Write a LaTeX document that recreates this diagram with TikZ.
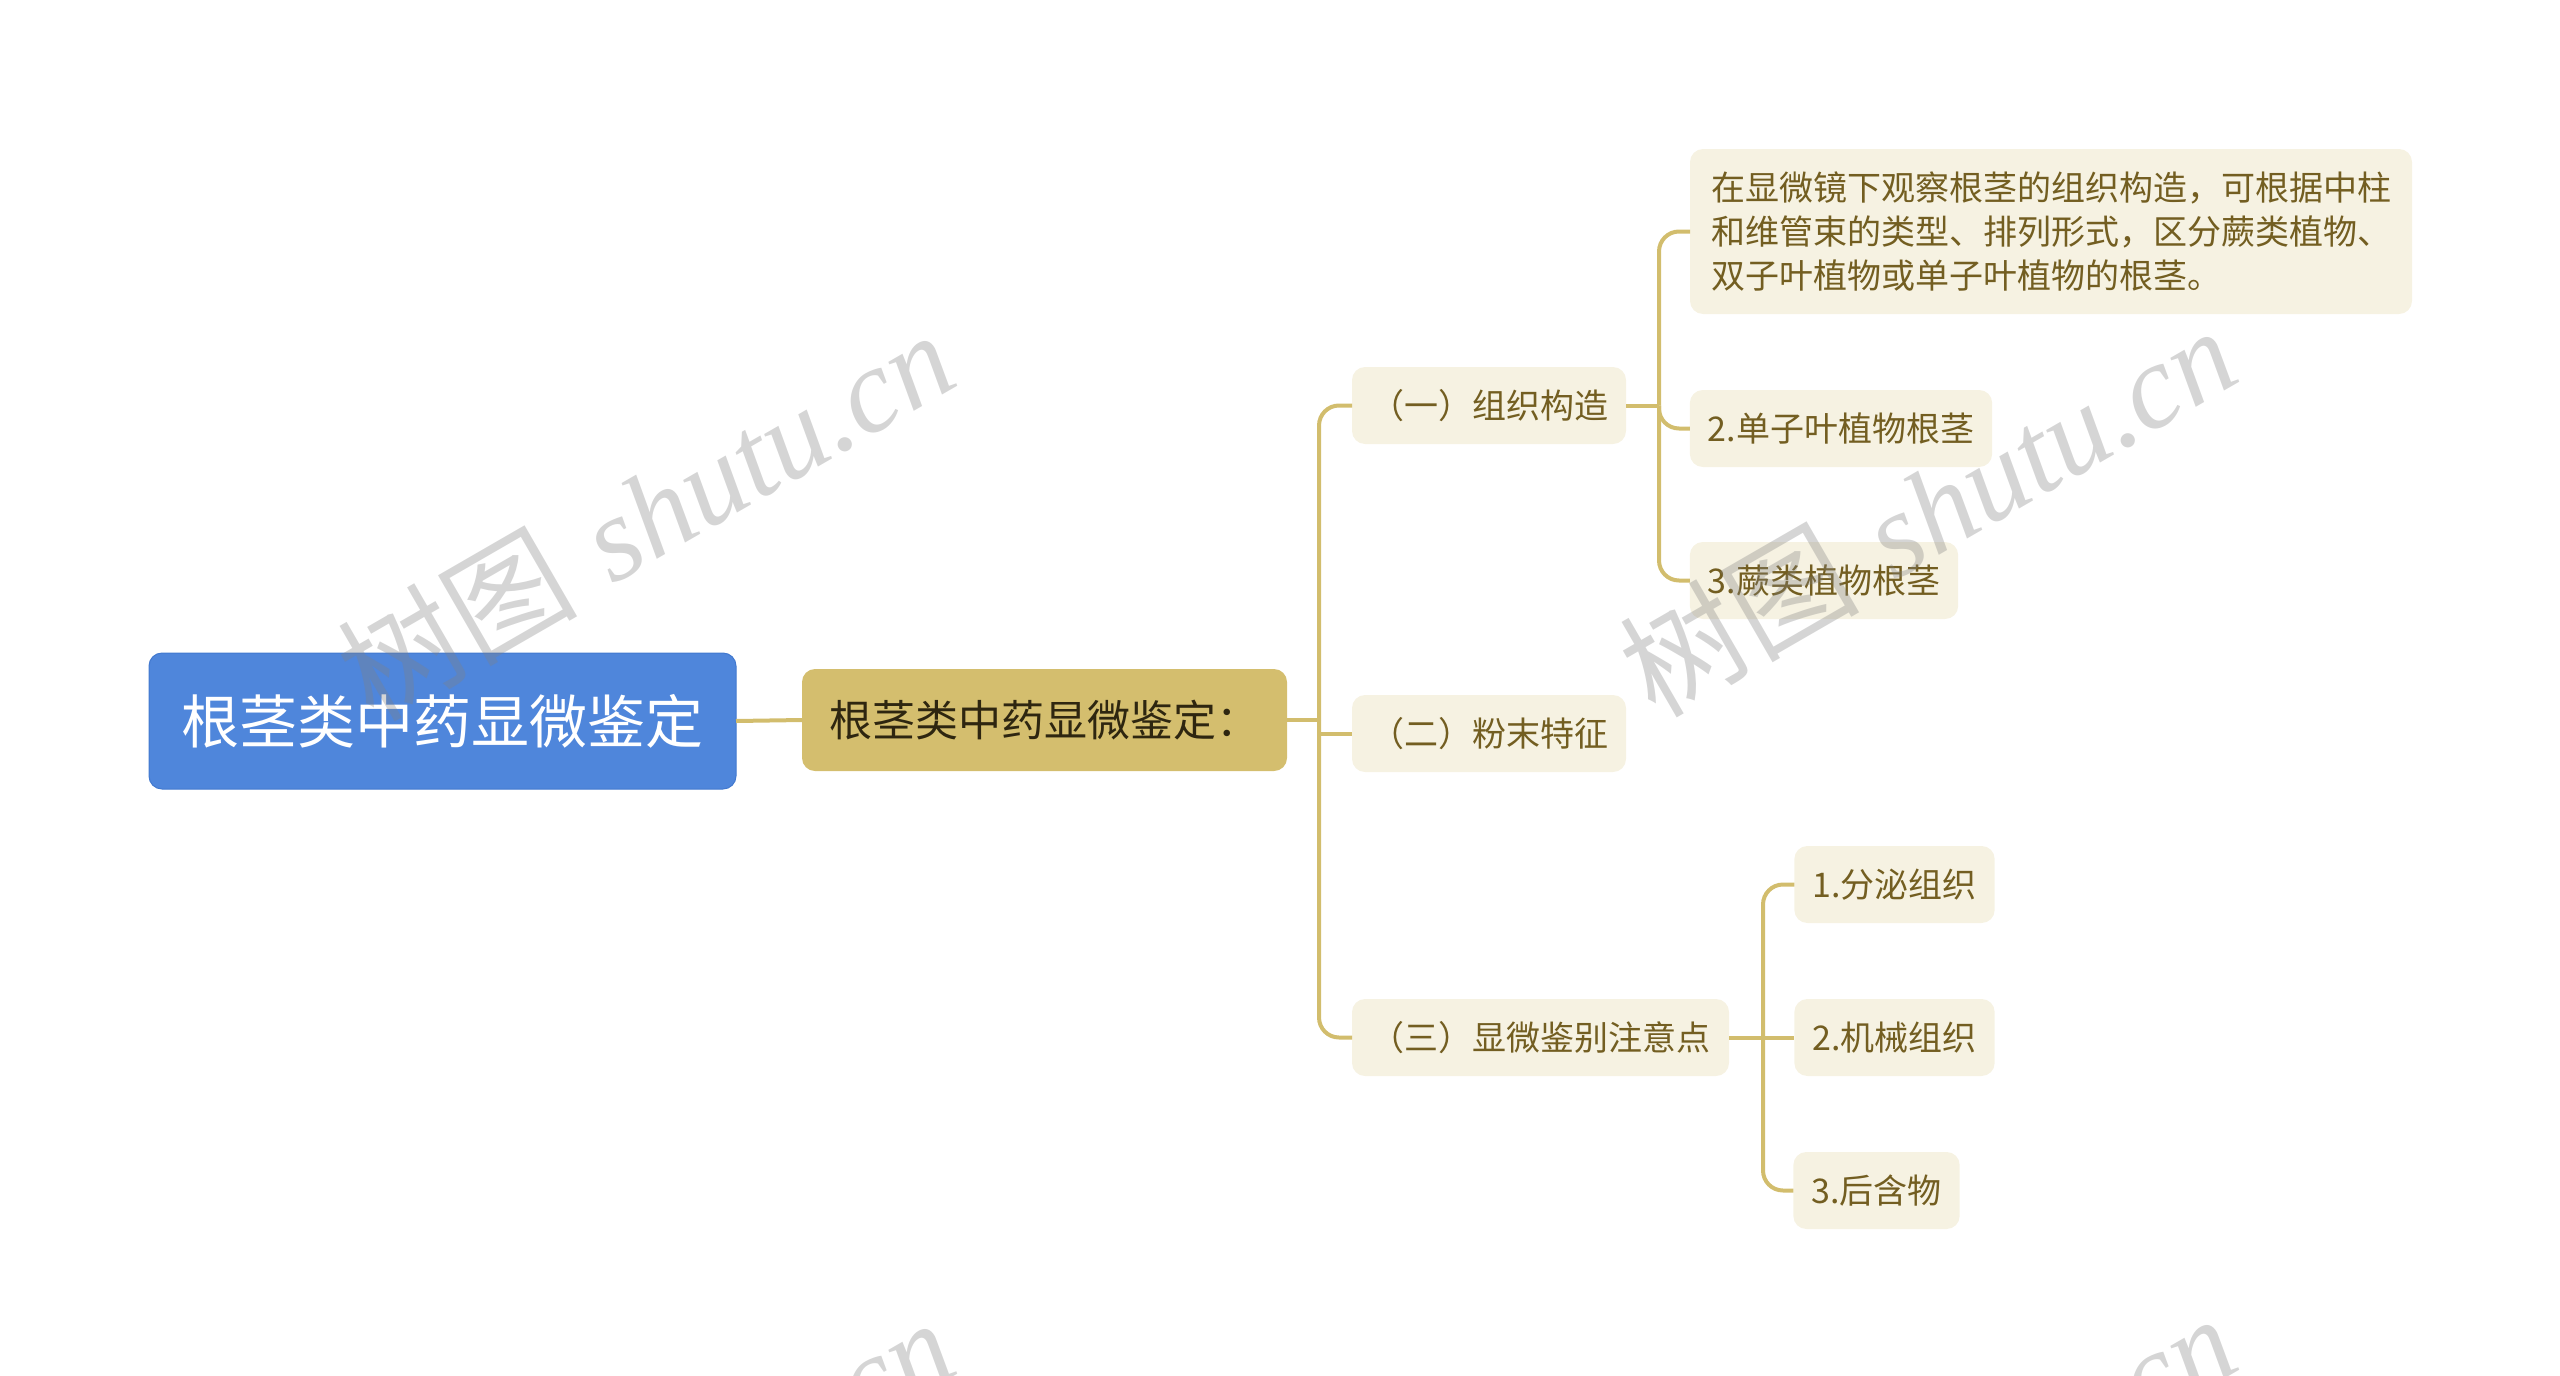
\documentclass[tikz,border=0pt]{standalone}
\usepackage{fontspec}
\newfontfamily\cjk{Noto Sans CJK SC}
\newfontfamily\wmlatin{Liberation Serif}
\usetikzlibrary{calc}
\definecolor{rootblue}{HTML}{4F86DB}
\definecolor{rootborder}{HTML}{4279CF}
\definecolor{goldfill}{HTML}{D4BE6E}
\definecolor{goldline}{HTML}{D2BD6D}
\definecolor{paper}{HTML}{F6F2E2}
\definecolor{browntext}{HTML}{735E21}
\definecolor{darktext}{HTML}{2E2610}
\begin{document}
\begin{tikzpicture}[x=1pt,y=-1pt,
  every node/.style={outer sep=0pt},
  conn/.style={draw=goldline,line width=4pt},
  roundconn/.style={conn,rounded corners=20pt},
  rootnode/.style={fill=rootblue,draw=rootborder,line width=1pt,rounded corners=13pt,
    text=white,font=\cjk\fontsize{58}{64}\selectfont,inner xsep=28pt,
    minimum width=587pt,minimum height=136pt},
  secnode/.style={fill=goldfill,rounded corners=13pt,text=darktext,
    font=\cjk\fontsize{43}{50}\selectfont,inner xsep=22pt,
    minimum width=485pt,minimum height=102pt},
  leaf/.style={fill=paper,rounded corners=13pt,text=browntext,
    font=\cjk\fontsize{34}{44}\selectfont,inner xsep=18pt,minimum height=77pt},
  wm/.style={text=gray,opacity=0.33,rotate=30,font=\fontsize{120}{130}\selectfont}
]
\useasboundingbox (0,0) rectangle (2560,1376);
\clip (0,0) rectangle (2560,1376);

\node[rootnode] (root) at (442.5,721) {根茎类中药显微鉴定};
\node[secnode] (sec) at (1044.5,720) {根茎类中药显微鉴定：};

\node[leaf,minimum width=274pt] (n1) at (1489,405.5) {（一）组织构造};
\node[leaf,minimum width=274pt] (n2) at (1489,733.5) {（二）粉末特征};
\node[leaf,minimum width=377pt] (n3) at (1540.5,1037.5) {（三）显微鉴别注意点};

\node[leaf,minimum width=722pt,minimum height=165pt,align=left] (m1) at (2051,231.5)
  {在显微镜下观察根茎的组织构造，可根据中柱\\和维管束的类型、排列形式，区分蕨类植物、\\双子叶植物或单子叶植物的根茎。};
\node[leaf,minimum width=302pt] (m2) at (1841,428.5) {2.单子叶植物根茎};
\node[leaf,minimum width=268pt] (m3) at (1824,580.5) {3.蕨类植物根茎};

\node[leaf,minimum width=199pt] (d1) at (1894.5,884.5) {1.分泌组织};
\node[leaf,minimum width=199pt] (d2) at (1894.5,1037.5) {2.机械组织};
\node[leaf,minimum width=163pt] (d3) at (1876.5,1190.5) {3.后含物};

% connectors
\draw[conn] (root.east) -- (sec.west);

\coordinate (j1) at ($(sec.east)+(32,0)$);
\draw[conn] (sec.east) -- (j1);
\draw[roundconn] (j1) |- (n1.west);
\draw[conn] (j1) |- (n2.west);
\draw[roundconn] (j1) |- (n3.west);

\coordinate (j2) at ($(n1.east)+(33,0)$);
\draw[conn] (n1.east) -- (j2);
\draw[roundconn] (j2) |- (m1.west);
\draw[roundconn] (j2) |- (m2.west);
\draw[roundconn] (j2) |- (m3.west);

\coordinate (j3) at ($(n3.east)+(34,0)$);
\draw[conn] (n3.east) -- (j3);
\draw[roundconn] (j3) |- (d1.west);
\draw[conn] (j3) -- (d2.west);
\draw[roundconn] (j3) |- (d3.west);

% watermarks
\node[wm] (w1) at (645,514) {{\cjk 树图} {\wmlatin\itshape shutu.cn}};
\node[wm] (w2) at (1927,510) {{\cjk 树图} {\wmlatin\itshape shutu.cn}};
\node[wm] (w3) at (645,1502) {{\cjk 树图} {\wmlatin\itshape shutu.cn}};
\node[wm] (w4) at (1927,1498) {{\cjk 树图} {\wmlatin\itshape shutu.cn}};
\end{tikzpicture}
\end{document}
